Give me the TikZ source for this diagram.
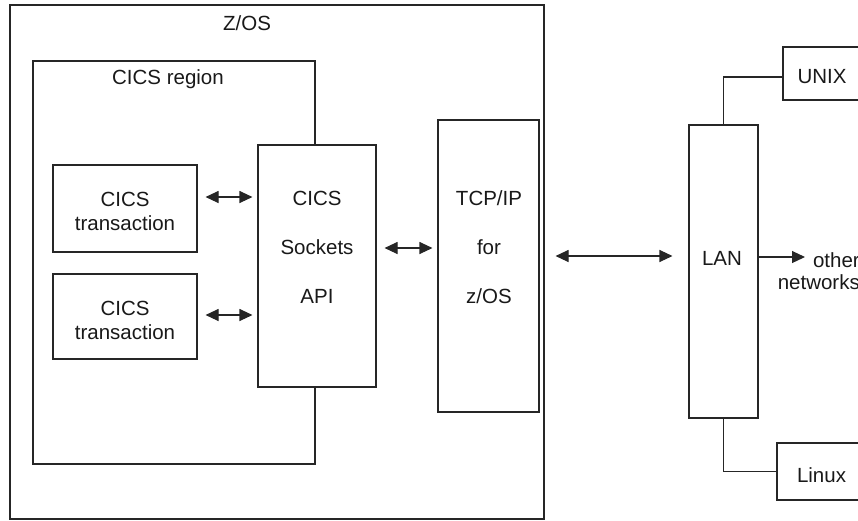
\documentclass[tikz,border=0pt]{standalone}
\usepackage{fontspec}
\setmainfont{Liberation Sans}
\usetikzlibrary{arrows.meta,calc}
\begin{document}
\begin{tikzpicture}[x=1pt,y=-1pt,
  box/.style={draw=black!85, line width=1.1pt, inner sep=0pt},
  txt/.style={inner sep=0pt, align=center, text=black!90, font=\fontsize{20.5}{24}\selectfont},
  tall/.style={txt, font=\fontsize{20.5}{49}\selectfont},
  conn/.style={draw=black!85, line width=1.1pt},
  tip/.tip={Triangle[length=13pt,width=12pt]},
  arr/.style={conn, tip-tip},
  arr1/.style={conn, -tip},
]
\useasboundingbox (0,0) rectangle (858,520);
\clip (0,0) rectangle (858,520);
% boxes
\node[box, minimum width=534pt, minimum height=514pt] (zos) at (277,262) {};
\node[box, minimum width=282pt, minimum height=403pt] (region) at (174,262.5) {};
\node[box, minimum width=144pt, minimum height=87pt] (tx1) at (125,208.5) {};
\node[box, minimum width=144pt, minimum height=85pt] (tx2) at (125,316.5) {};
\node[box, fill=white, minimum width=118pt, minimum height=242pt] (sock) at (317,266) {};
\node[box, fill=white, minimum width=101pt, minimum height=292pt] (tcp) at (488.5,266) {};
\node[box, minimum width=69pt, minimum height=293pt] (lan) at (723.5,271.5) {};
\node[box, minimum width=79pt, minimum height=53pt] (unix) at (822.5,73.5) {};
\node[box, minimum width=89pt, minimum height=57pt] (linux) at (821.5,471.5) {};
% texts
\node[txt] (zosT) at (247,23) {Z/OS};
\node[txt] (regT) at (168,79) {CICS region};
\node[txt] (tx1T) at (125,211) {CICS\\transaction};
\node[txt] (tx2T) at (125,320.5) {CICS\\transaction};
\node[tall] (sockT) at (317,247) {CICS\\Sockets\\API};
\node[tall] (tcpT) at (489,247) {TCP/IP\\for\\z/OS};
\node[txt] (lanT) at (722,258) {LAN};
\node[txt] (unixT) at (822,77) {UNIX};
\node[txt] (linuxT) at (821.5,475) {Linux};
\node[txt, align=right, anchor=east, font=\fontsize{20.5}{22}\selectfont] (othT) at (860,271) {other\\networks};
% connectors
\coordinate (a1s) at ([yshift=11.5pt]tx1.east);
\draw[arr, shorten <=8pt, shorten >=5pt] (a1s) -- (a1s -| sock.west);
\coordinate (a2s) at ([yshift=1.5pt]tx2.east);
\draw[arr, shorten <=8pt, shorten >=5pt] (a2s) -- (a2s -| sock.west);
\coordinate (a3s) at ([yshift=18pt]sock.east);
\draw[arr, shorten <=8pt, shorten >=5pt] (a3s) -- (a3s -| tcp.west);
\coordinate (a4s) at ([yshift=10pt]tcp.east);
\draw[arr, shorten <=16pt, shorten >=16pt] (a4s) -- (a4s -| lan.west);
\coordinate (a5s) at ([yshift=14.5pt]lan.east);
\coordinate (othE) at (805,257);
\draw[arr1] (a5s) -- (othE);
\draw[conn] (lan.north) |- ([yshift=-3.5pt]unix.west);
\draw[conn] (lan.south) |- (linux.west);
\end{tikzpicture}
\end{document}
